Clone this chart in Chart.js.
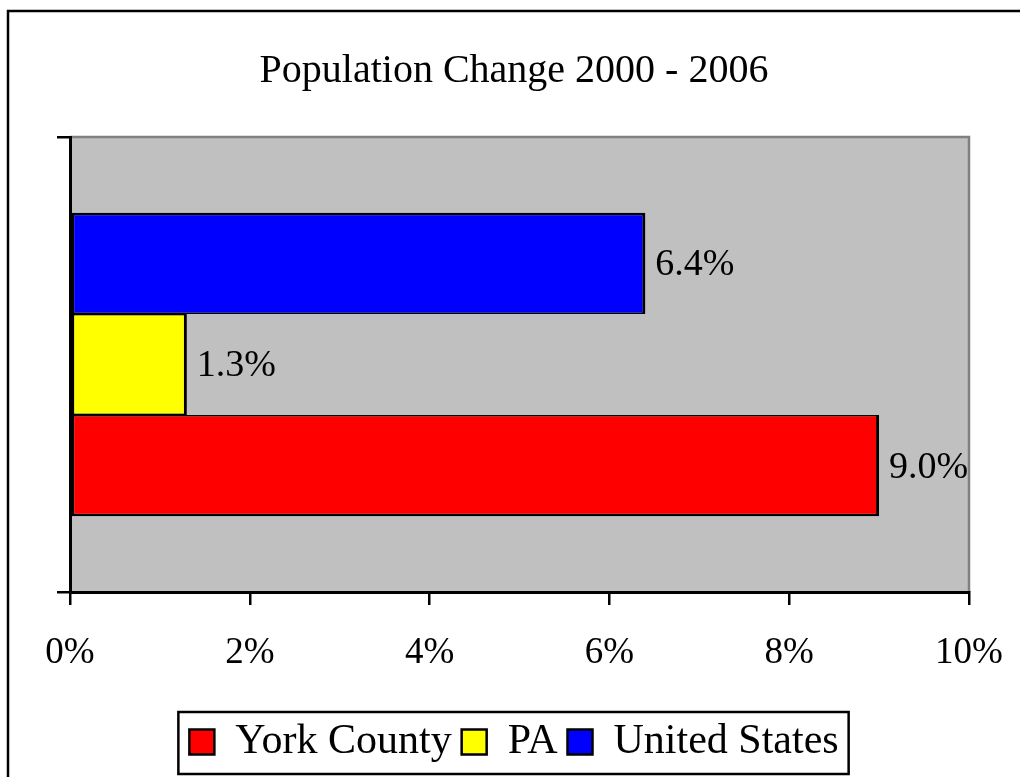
<!DOCTYPE html>
<html>
<head>
<meta charset="utf-8">
<script src="https://cdn.jsdelivr.net/npm/chart.js@4"></script>
<style>
  body { margin: 0; background: #fff; }
  #grafico-wrap { width: 1020px; height: 777px; position: relative; }
</style>
</head>
<body>
<div id="grafico-wrap"><canvas id="grafico"></canvas></div>
<script>
const categorias = [""]
const series = ["York County", "PA", "United States"]
const valores = [9.0, 1.3, 6.4]
const ticksX = [0, 2, 4, 6, 8, 10]
const titulo = "Population Change 2000 - 2006"

const colores = ["#ff0000", "#ffff00", "#0000ff"]
const bordes = [
  {top: 1.5, bottom: 2.5, left: 3, right: 3},
  {top: 1.5, bottom: 1.5, left: 3, right: 3},
  {top: 2.5, bottom: 1.5, left: 3, right: 3}
]
const fuente = "'Liberation Serif', 'Times New Roman', serif"

// fondo gris del area y marco exterior
const fondo = {
  id: "fondo",
  beforeDraw(chart) {
    const {ctx, chartArea: a} = chart
    ctx.save()
    ctx.fillStyle = "#c0c0c0"
    ctx.fillRect(a.left, a.top, a.right - a.left, a.bottom - a.top)
    ctx.strokeStyle = "#808080"
    ctx.lineWidth = 2.5
    ctx.beginPath()
    ctx.moveTo(a.left, a.top)
    ctx.lineTo(a.right, a.top)
    ctx.lineTo(a.right, a.bottom)
    ctx.stroke()
    ctx.strokeStyle = "#000"
    ctx.strokeRect(8, 11, 1200, 1000)
    ctx.restore()
  },
  afterDraw(chart) {
    // recuadro de la leyenda
    const boxes = chart.legend.legendHitBoxes
    if (!boxes || !boxes.length) return
    const left = Math.min(...boxes.map(b => b.left)) - 11
    const right = Math.max(...boxes.map(b => b.left + b.width)) + 10
    const top = boxes[0].top - 9
    const bottom = boxes[0].top + boxes[0].height + 11
    const ctx = chart.ctx
    ctx.save()
    ctx.strokeStyle = "#000"
    ctx.lineWidth = 2.5
    ctx.strokeRect(left, top, right - left, bottom - top)
    ctx.restore()
  }
}

// etiquetas de valor al final de cada barra
const etiquetas = {
  id: "etiquetas",
  afterDatasetsDraw(chart) {
    const ctx = chart.ctx
    ctx.save()
    ctx.font = "38px " + fuente
    ctx.fillStyle = "#000"
    ctx.textAlign = "left"
    ctx.textBaseline = "middle"
    chart.data.datasets.forEach((ds, i) => {
      const meta = chart.getDatasetMeta(i)
      meta.data.forEach((bar, j) => {
        ctx.fillText(ds.data[j].toFixed(1) + "%", bar.x + 10, bar.y + 2)
      })
    })
    ctx.restore()
  }
}

const datasets = series.map((nombre, i) => ({
  label: nombre,
  data: [valores[i]],
  backgroundColor: colores[i],
  borderColor: "#000",
  borderWidth: bordes[i],
  borderSkipped: false,
  // York County abajo, United States arriba
  order: series.length - i,
  categoryPercentage: 0.667,
  barPercentage: 1
}))

const ctx = document.getElementById("grafico").getContext("2d")

new Chart(ctx, {
  type: "bar",
  data: {
    labels: categorias,
    datasets: datasets
  },
  options: {
    indexAxis: "y",
    responsive: true,
    maintainAspectRatio: false,
    animation: false,
    layout: {
      padding: {top: 0, left: 29, right: 21, bottom: 4}
    },
    scales: {
      x: {
        min: 0,
        max: 10,
        afterBuildTicks: s => { s.ticks = ticksX.map(v => ({value: v})) },
        afterFit: s => {
          s.height = 119
          s.paddingLeft = 0
          s.paddingRight = 0
        },
        ticks: {
          callback: v => v + "%",
          color: "#000",
          font: {family: fuente, size: 37},
          padding: 26,
          maxRotation: 0,
          autoSkip: false
        },
        grid: {
          drawOnChartArea: false,
          drawTicks: true,
          tickLength: 13,
          color: "#000",
          lineWidth: 2.5
        },
        border: {color: "#000", width: 3}
      },
      y: {
        ticks: {display: false},
        afterFit: s => { s.width = 41 },
        grid: {
          offset: true,
          drawOnChartArea: false,
          drawTicks: true,
          tickLength: 13,
          color: "#000",
          lineWidth: 2.5
        },
        border: {color: "#000", width: 3}
      },
      derecha: {
        type: "linear",
        position: "right",
        display: true,
        ticks: {display: false},
        grid: {display: false},
        border: {display: false},
        afterFit: s => { s.width = 30 }
      }
    },
    plugins: {
      title: {
        display: true,
        text: titulo,
        color: "#000",
        font: {family: fuente, size: 40, weight: "normal"},
        padding: {top: 47, bottom: 42}
      },
      legend: {
        position: "bottom",
        labels: {
          color: "#000",
          font: {family: fuente, size: 42},
          boxWidth: 25,
          boxHeight: 25,
          padding: 10,
          generateLabels: chart =>
            Chart.defaults.plugins.legend.labels.generateLabels(chart)
              .map(l => ({...l, lineWidth: 2.5})),
          sort: (a, b) => a.datasetIndex - b.datasetIndex
        }
      },
      tooltip: {enabled: false}
    }
  },
  plugins: [fondo, etiquetas]
})
</script>
</body>
</html>
